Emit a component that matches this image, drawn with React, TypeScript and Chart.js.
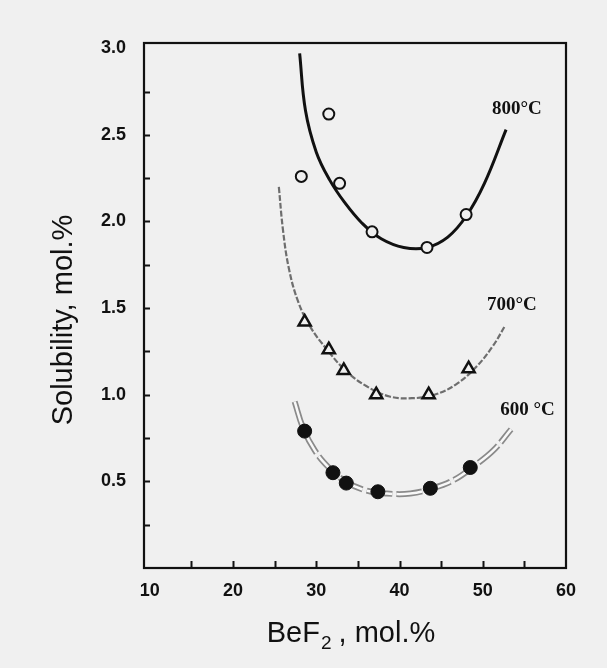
import React, { useEffect, useRef } from 'react';
import { Chart, registerables } from 'chart.js';

Chart.register(...registerables);

// ---- axes ----
const xMin = 9.3;
const xMax = 60;
const yMin = 0;
const yMax = 3.03;
const xTickValues = [10, 15, 20, 25, 30, 35, 40, 45, 50, 55, 60];
const xLabeledTicks = [10, 20, 30, 40, 50, 60];
const yTickValues = [0, 0.25, 0.5, 0.75, 1.0, 1.25, 1.5, 1.75, 2.0, 2.25, 2.5, 2.75, 3.0];
const yLabeledTicks = [0.5, 1.0, 1.5, 2.0, 2.5, 3.0];

const yTitle = 'Solubility, mol.%';
const xTitleMain = 'BeF';
const xTitleSub = '2';
const xTitleRest = ' , mol.%';

// ---- 800 °C ----
const pts800X = [31.5, 28.2, 32.8, 36.7, 43.3, 48.0];
const pts800Y = [2.62, 2.26, 2.22, 1.94, 1.85, 2.04];
const fit800X = [28.0, 28.7, 30.0, 31.6, 33.4, 35.5, 37.8, 40.5, 43.3, 45.8, 48.0, 50.2, 52.8];
const fit800Y = [2.97, 2.64, 2.40, 2.24, 2.11, 1.99, 1.90, 1.85, 1.85, 1.91, 2.03, 2.22, 2.53];

// ---- 700 °C ----
const pts700X = [28.6, 31.5, 33.3, 37.2, 43.5, 48.3];
const pts700Y = [1.42, 1.26, 1.14, 1.0, 1.0, 1.15];
const fit700X = [25.5, 26.0, 26.7, 27.8, 29.3, 31.3, 33.5, 36.0, 38.8, 41.5, 44.2, 46.8, 49.2, 51.2, 52.7];
const fit700Y = [2.20, 1.95, 1.73, 1.54, 1.39, 1.26, 1.14, 1.05, 0.99, 0.98, 1.00, 1.06, 1.16, 1.28, 1.40];

// ---- 600 °C ----
const pts600X = [28.6, 32.0, 33.6, 37.4, 43.7, 48.5];
const pts600Y = [0.79, 0.55, 0.49, 0.44, 0.46, 0.58];
const fit600X = [27.4, 28.4, 29.8, 31.5, 33.5, 35.8, 38.5, 41.3, 44.0, 46.6, 49.0, 51.3, 53.4];
const fit600Y = [0.96, 0.81, 0.68, 0.58, 0.50, 0.45, 0.43, 0.43, 0.46, 0.51, 0.59, 0.68, 0.80];

// ---- curve labels ----
const tempLabels = ['800°C', '700°C', '600 °C'];
const tempLabelX = [51.1, 50.5, 52.1];
const tempLabelY = [2.65, 1.52, 0.91];

const BG = '#f0f0f0';
const INK = '#111111';
const SANS = '"Liberation Sans", Arial, Helvetica, sans-serif';
const SERIF = '"Liberation Serif", "Times New Roman", serif';

const toPts = (xs: number[], ys: number[]) => xs.map((x, i) => ({ x, y: ys[i] }));

const decor = {
  id: 'decor',
  beforeDraw(chart: any) {
    const { ctx, width, height } = chart;
    ctx.save();
    ctx.fillStyle = BG;
    ctx.fillRect(0, 0, width, height);
    ctx.restore();
  },
  afterDraw(chart: any) {
    const { ctx, chartArea: a, scales } = chart;
    const x = scales.x;
    const y = scales.y;
    ctx.save();
    // frame
    ctx.strokeStyle = INK;
    ctx.lineWidth = 2.2;
    ctx.strokeRect(a.left, a.top, a.right - a.left, a.bottom - a.top);
    // inward ticks
    ctx.lineWidth = 2;
    ctx.beginPath();
    yTickValues.forEach((v) => {
      if (v <= 0 || v >= 3) return;
      const py = Math.round(y.getPixelForValue(v)) + 0.5;
      ctx.moveTo(a.left, py);
      ctx.lineTo(a.left + 6, py);
    });
    xTickValues.forEach((v) => {
      if (v <= 10 || v >= 60) return;
      const px = Math.round(x.getPixelForValue(v)) + 0.5;
      ctx.moveTo(px, a.bottom);
      ctx.lineTo(px, a.bottom - 7);
    });
    ctx.stroke();

    // curve labels
    ctx.fillStyle = INK;
    ctx.font = `bold 19px ${SERIF}`;
    ctx.textAlign = 'left';
    ctx.textBaseline = 'middle';
    tempLabels.forEach((t, i) => {
      ctx.fillText(t, x.getPixelForValue(tempLabelX[i]), y.getPixelForValue(tempLabelY[i]));
    });

    // y title
    ctx.save();
    ctx.translate(72, 320);
    ctx.rotate(-Math.PI / 2);
    ctx.font = `29px ${SANS}`;
    ctx.textAlign = 'center';
    ctx.textBaseline = 'alphabetic';
    ctx.fillText(yTitle, 0, 0);
    ctx.restore();

    // x title with subscript
    const mainFont = `29px ${SANS}`;
    const subFont = `19px ${SANS}`;
    ctx.textAlign = 'left';
    ctx.textBaseline = 'alphabetic';
    ctx.font = mainFont;
    const w1 = ctx.measureText(xTitleMain).width;
    const w3 = ctx.measureText(xTitleRest).width;
    ctx.font = subFont;
    const w2 = ctx.measureText(xTitleSub).width;
    const total = w1 + w2 + w3;
    let sx = 351 - total / 2;
    const baseY = 642;
    ctx.font = mainFont;
    ctx.fillText(xTitleMain, sx, baseY);
    sx += w1;
    ctx.font = subFont;
    ctx.fillText(xTitleSub, sx + 1, baseY + 7);
    sx += w2;
    ctx.font = mainFont;
    ctx.fillText(xTitleRest, sx, baseY);
    ctx.restore();
  },
};

export default function App() {
  const ref = useRef<HTMLCanvasElement | null>(null);

  useEffect(() => {
    if (!ref.current) return;
    const tickFont = { family: SANS, size: 18, weight: 'bold' as const };
    const curve = { showLine: true, pointRadius: 0, tension: 0.4 };
    const chart = new Chart(ref.current, {
      type: 'scatter',
      data: {
        datasets: [
          {
            ...curve,
            label: '600 outer',
            data: toPts(fit600X, fit600Y),
            borderColor: '#8a8a8a',
            borderWidth: 6,
            borderDash: [26, 4],
            order: 5,
          } as any,
          {
            ...curve,
            label: '600 inner',
            data: toPts(fit600X, fit600Y),
            borderColor: '#f8f8f8',
            borderWidth: 2.5,
            borderDash: [26, 4],
            order: 4,
          } as any,
          {
            ...curve,
            label: '700 fit',
            data: toPts(fit700X, fit700Y),
            borderColor: '#6e6e6e',
            borderWidth: 2.2,
            borderDash: [6, 2],
            order: 4,
          } as any,
          {
            ...curve,
            label: '800 fit',
            data: toPts(fit800X, fit800Y),
            borderColor: INK,
            borderWidth: 3,
            order: 4,
          } as any,
          {
            label: '800 °C',
            data: toPts(pts800X, pts800Y),
            pointStyle: 'circle',
            pointRadius: 5.5,
            pointBorderWidth: 2,
            pointBorderColor: INK,
            pointBackgroundColor: BG,
            order: 0,
          } as any,
          {
            label: '700 °C',
            data: toPts(pts700X, pts700Y),
            pointStyle: 'triangle',
            pointRadius: 7,
            pointBorderWidth: 2.5,
            pointBorderColor: INK,
            pointBackgroundColor: BG,
            order: 0,
          } as any,
          {
            label: '600 °C',
            data: toPts(pts600X, pts600Y),
            pointStyle: 'circle',
            pointRadius: 7,
            pointBorderWidth: 1,
            pointBorderColor: INK,
            pointBackgroundColor: INK,
            order: 0,
          } as any,
        ],
      },
      options: {
        responsive: false,
        animation: false,
        events: [],
        layout: { padding: { left: 0, top: 43, right: 41, bottom: 0 } },
        plugins: {
          legend: { display: false },
          tooltip: { enabled: false },
        },
        scales: {
          x: {
            type: 'linear',
            min: xMin,
            max: xMax,
            grid: { display: false, drawTicks: false },
            border: { display: false },
            afterBuildTicks: (scale: any) => {
              scale.ticks = xTickValues.map((v) => ({ value: v }));
            },
            afterFit: (scale: any) => {
              scale.height = 100;
            },
            ticks: {
              autoSkip: false,
              maxRotation: 0,
              padding: 12,
              color: INK,
              font: tickFont,
              callback: (v: any) => (xLabeledTicks.includes(Number(v)) ? String(v) : ''),
            },
          },
          y: {
            type: 'linear',
            min: yMin,
            max: yMax,
            grid: { display: false, drawTicks: false },
            border: { display: false },
            afterBuildTicks: (scale: any) => {
              scale.ticks = yTickValues.map((v) => ({ value: v }));
            },
            afterFit: (scale: any) => {
              scale.width = 144;
            },
            ticks: {
              autoSkip: false,
              padding: 18,
              color: INK,
              font: tickFont,
              callback: (v: any) =>
                yLabeledTicks.some((t) => Math.abs(t - Number(v)) < 1e-6) ? Number(v).toFixed(1) : '',
            },
          },
        },
      },
      plugins: [decor],
    });
    return () => chart.destroy();
  }, []);

  return (
    <div style={{ position: 'fixed', left: 0, top: 0, width: 607, height: 668, background: BG }}>
      <canvas ref={ref} width={607} height={668} style={{ display: 'block', width: 607, height: 668 }} />
    </div>
  );
}
